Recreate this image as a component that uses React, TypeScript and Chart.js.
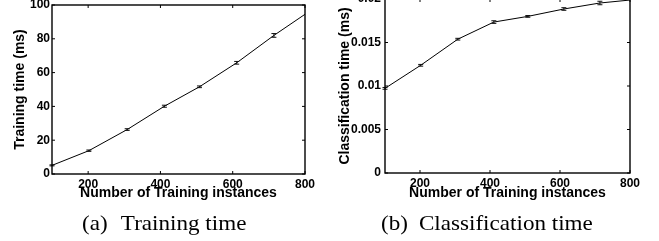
import React, { useEffect, useRef } from 'react';
import { Chart, registerables } from 'chart.js';
Chart.register(...registerables);

// ---- data ----
const trainX = [100, 202, 308, 411, 508, 611, 714, 800];
const trainTime = [5.1, 13.8, 26.3, 40.1, 51.6, 65.8, 82.0, 94.5];
const trainErr = [0.3, 0.4, 0.5, 0.6, 0.5, 0.8, 1.1, 0];

const classX = [100, 202, 308, 411, 508, 611, 714, 800];
const classTime = [0.00973, 0.01238, 0.01538, 0.01735, 0.018, 0.01885, 0.01954, 0.01988];
const classErr = [0.0001, 0.0001, 0.0001, 0.00015, 0.0001, 0.00015, 0.0002, 0];

const xTicks = [200, 400, 600, 800];
const trainYTicks = [0, 20, 40, 60, 80, 100];
const trainYLabels = ['0', '20', '40', '60', '80', '100'];
const classYTicks = [0, 0.005, 0.01, 0.015, 0.02];
const classYLabels = ['0', '0.005', '0.01', '0.015', '0.02'];

const xTitle = 'Number of Training instances';
const trainYTitle = 'Training time (ms)';
const classYTitle = 'Classification time (ms)';
const captionA = '(a)';
const captionAText = 'Training time';
const captionB = '(b)';
const captionBText = 'Classification time';

const SANS = "'Liberation Sans', Arial, Helvetica, sans-serif";
const SERIF = "'Liberation Serif', 'Times New Roman', serif";

const framePlugin = {
  id: 'matlabFrame',
  afterDatasetsDraw(chart: any, _args: any, opts: any) {
    const { ctx, chartArea: a, scales } = chart;
    const xs = scales.x;
    const ys = scales.y;
    ctx.save();
    // error bars
    ctx.strokeStyle = '#111';
    ctx.lineWidth = 1;
    const xsVals: number[] = opts.xVals || [];
    const yVals: number[] = opts.yVals || [];
    const errs: number[] = opts.errs || [];
    for (let i = 0; i < xsVals.length; i++) {
      const e = errs[i];
      if (!e) continue;
      const px = xs.getPixelForValue(xsVals[i]);
      const y1 = ys.getPixelForValue(yVals[i] - e);
      const y2 = ys.getPixelForValue(yVals[i] + e);
      ctx.beginPath();
      ctx.moveTo(px, y1);
      ctx.lineTo(px, y2);
      ctx.moveTo(px - 2.5, y1);
      ctx.lineTo(px + 2.5, y1);
      ctx.moveTo(px - 2.5, y2);
      ctx.lineTo(px + 2.5, y2);
      ctx.stroke();
    }
    // inner tick marks
    ctx.strokeStyle = '#000';
    ctx.lineWidth = 1;
    ctx.beginPath();
    ys.ticks.forEach((t: any) => {
      const y = ys.getPixelForValue(t.value);
      ctx.moveTo(a.left, y);
      ctx.lineTo(a.left + 3, y);
      ctx.moveTo(a.right, y);
      ctx.lineTo(a.right - 3, y);
    });
    xs.ticks.forEach((t: any) => {
      const x = xs.getPixelForValue(t.value);
      ctx.moveTo(x, a.bottom);
      ctx.lineTo(x, a.bottom - 3);
      ctx.moveTo(x, a.top);
      ctx.lineTo(x, a.top + 3);
    });
    ctx.stroke();
    // frame
    ctx.lineWidth = 1.4;
    ctx.strokeRect(a.left, a.top, a.right - a.left, a.bottom - a.top);
    ctx.restore();
  },
};

type PanelCfg = {
  left: number;
  top: number;
  width: number;
  height: number;
  xVals: number[];
  yVals: number[];
  errs: number[];
  yMax: number;
  yTicks: number[];
  yLabels: string[];
  yTitle: string;
  yWidth: number;
  xHeight: number;
  pad: { left: number; top: number; right: number; bottom: number };
  yTitlePad: number;
  yTickPad: number;
  xTickPad: number;
  xTitlePadBottom: number;
};

function Panel({ cfg }: { cfg: PanelCfg }) {
  const ref = useRef<HTMLCanvasElement | null>(null);
  useEffect(() => {
    if (!ref.current) return;
    const tickFont = { family: SANS, size: 12, weight: 'bold' as const };
    const titleFont = { family: SANS, size: 14, weight: 'bold' as const };
    const chart = new Chart(ref.current, {
      type: 'line',
      data: {
        datasets: [
          {
            data: cfg.xVals.map((x, i) => ({ x, y: cfg.yVals[i] })),
            borderColor: '#000',
            borderWidth: 1,
            pointRadius: 0,
            tension: 0,
            fill: false,
          },
        ],
      },
      options: {
        animation: false,
        responsive: false,
        devicePixelRatio: 1,
        layout: { padding: cfg.pad },
        plugins: {
          legend: { display: false },
          tooltip: { enabled: false },
          matlabFrame: { xVals: cfg.xVals, yVals: cfg.yVals, errs: cfg.errs },
        } as any,
        scales: {
          x: {
            type: 'linear',
            min: 100,
            max: 800,
            afterBuildTicks: (s: any) => {
              s.ticks = xTicks.map((v) => ({ value: v }));
            },
            afterFit: (s: any) => {
              s.height = cfg.xHeight;
              s.paddingLeft = 0;
              s.paddingRight = 0;
            },
            grid: { display: false, drawTicks: false },
            border: { display: false },
            ticks: {
              font: tickFont,
              color: '#000',
              padding: cfg.xTickPad,
              maxRotation: 0,
              autoSkip: false,
              callback: (v: any) => String(v),
            },
            title: {
              display: true,
              text: xTitle,
              font: titleFont,
              color: '#000',
              padding: { top: 0, bottom: cfg.xTitlePadBottom },
            },
          },
          y: {
            type: 'linear',
            min: 0,
            max: cfg.yMax,
            afterBuildTicks: (s: any) => {
              s.ticks = cfg.yTicks.map((v) => ({ value: v }));
            },
            afterFit: (s: any) => {
              s.width = cfg.yWidth;
              s.paddingTop = 0;
              s.paddingBottom = 0;
            },
            grid: { display: false, drawTicks: false },
            border: { display: false },
            ticks: {
              font: tickFont,
              color: '#000',
              padding: cfg.yTickPad,
              autoSkip: false,
              callback: (_v: any, i: number) => cfg.yLabels[i],
            },
            title: {
              display: true,
              text: cfg.yTitle,
              font: titleFont,
              color: '#000',
              padding: { top: cfg.yTitlePad, bottom: 0 },
            },
          },
        },
      },
      plugins: [framePlugin as any],
    });
    return () => chart.destroy();
  }, [cfg]);
  return (
    <canvas
      ref={ref}
      width={cfg.width}
      height={cfg.height}
      style={{ position: 'absolute', left: cfg.left, top: cfg.top, width: cfg.width, height: cfg.height }}
    />
  );
}

const leftCfg: PanelCfg = {
  left: 0,
  top: -10,
  width: 330,
  height: 225,
  xVals: trainX,
  yVals: trainTime,
  errs: trainErr,
  yMax: 100,
  yTicks: trainYTicks,
  yLabels: trainYLabels,
  yTitle: trainYTitle,
  yWidth: 52,
  xHeight: 31,
  pad: { left: 0, top: 15, right: 25, bottom: 10 },
  yTitlePad: 12,
  yTickPad: 2,
  xTickPad: 3,
  xTitlePadBottom: 3,
};

const rightCfg: PanelCfg = {
  left: 330,
  top: -11,
  width: 329,
  height: 226,
  xVals: classX,
  yVals: classTime,
  errs: classErr,
  yMax: 0.02,
  yTicks: classYTicks,
  yLabels: classYLabels,
  yTitle: classYTitle,
  yWidth: 55,
  xHeight: 31,
  pad: { left: 0, top: 10, right: 29, bottom: 11 },
  yTitlePad: 7,
  yTickPad: 4,
  xTickPad: 3,
  xTitlePadBottom: 2,
};

const captionStyle = (left: number): React.CSSProperties => ({
  position: 'absolute',
  left,
  top: 213,
  fontFamily: SERIF,
  fontSize: 21,
  lineHeight: '21px',
  color: '#000',
  whiteSpace: 'nowrap',
  transform: 'scaleX(1.1)',
  transformOrigin: '0 0',
});

export default function App() {
  return (
    <div
      style={{
        position: 'fixed',
        left: 0,
        top: 0,
        width: 659,
        height: 241,
        overflow: 'hidden',
        background: '#fff',
      }}
    >
      <Panel cfg={leftCfg} />
      <Panel cfg={rightCfg} />
      <div style={captionStyle(82)}>
        {captionA}
        <span style={{ marginLeft: 12 }}>{captionAText}</span>
      </div>
      <div style={captionStyle(381)}>
        {captionB}
        <span style={{ marginLeft: 10 }}>{captionBText}</span>
      </div>
    </div>
  );
}
